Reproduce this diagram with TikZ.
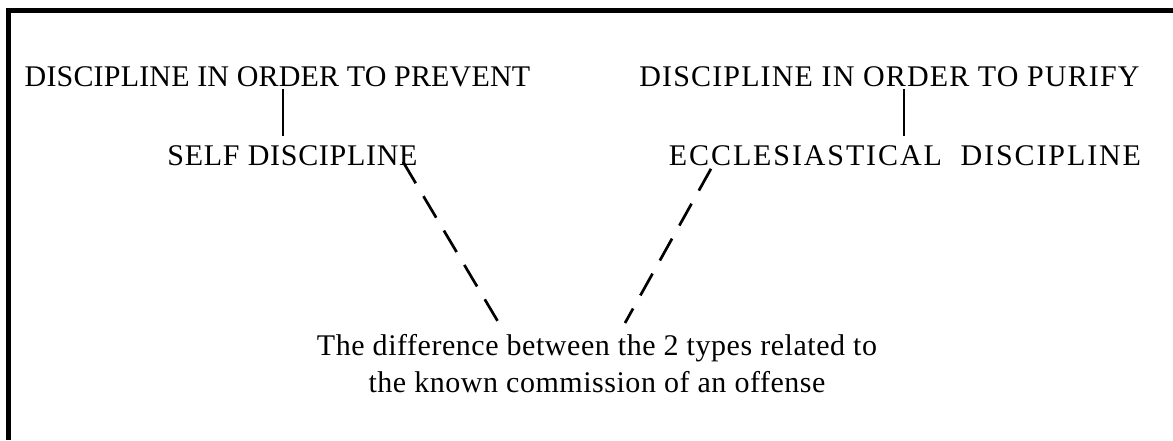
\documentclass[tikz,border=0pt]{standalone}
\usepackage{fontspec}
\setmainfont{Liberation Serif}
\usetikzlibrary{positioning}
\tikzset{
x=1pt, y=1pt, % one unit is one pixel of the page
node distance=79pt, % gap between the two rows of headings
spread/.style={font=\fontsize{30}{37}\selectfont\addfontfeatures{LetterSpace=#1}}, % text size and letter spacing
heading/.style={inner sep=0pt, spread=0.6}, % sets the look of every text
link/.style={line width=2.7pt, shorten <=2pt, shorten >=10pt}, % the short upright ties
dashlink/.style={line width=2.7pt, dash pattern=on 25pt off 15pt}, % the long dashed ties
frame/.style={line width=5pt, line join=miter}, % the heavy border
}

\begin{document}
\begin{tikzpicture}
      \useasboundingbox (0,0) rectangle (1173,-440);
      \draw[frame] (8.5,-440) -- (8.5,-10.5) -- (1173,-10.5);

      \node[heading] (prevent) at (277.5,-77) {DISCIPLINE IN ORDER TO PREVENT};
      \node[heading, spread=3.8] (purify) at (889.5,-77) {DISCIPLINE IN ORDER TO PURIFY};
      \node[heading, spread=2.4, below of=prevent, xshift=15pt] (self) {SELF DISCIPLINE};
      \node[heading, spread=6.3, below of=purify, xshift=15.5pt] (church) {ECCLESIASTICAL\ \ DISCIPLINE};
      \node[heading, spread=1.8, align=center, anchor=north] (diff) at (597,-334)
        {The difference between the 2 types related to\\the known commission of an offense};

      \draw[link] ([xshift=5.5pt]prevent.south) -- ([xshift=-9.5pt]self.north);
      \draw[link] ([xshift=14.5pt]purify.south) -- ([xshift=-1pt]church.north);
      \draw[dashlink] ([shift={(110.5,4)}]self.base) -- ([shift={(-97,9)}]diff.north);
      \draw[dashlink] ([shift={(-194,-3)}]church.base) -- ([shift={(28,11)}]diff.north);
    \end{tikzpicture}
\end{document}
